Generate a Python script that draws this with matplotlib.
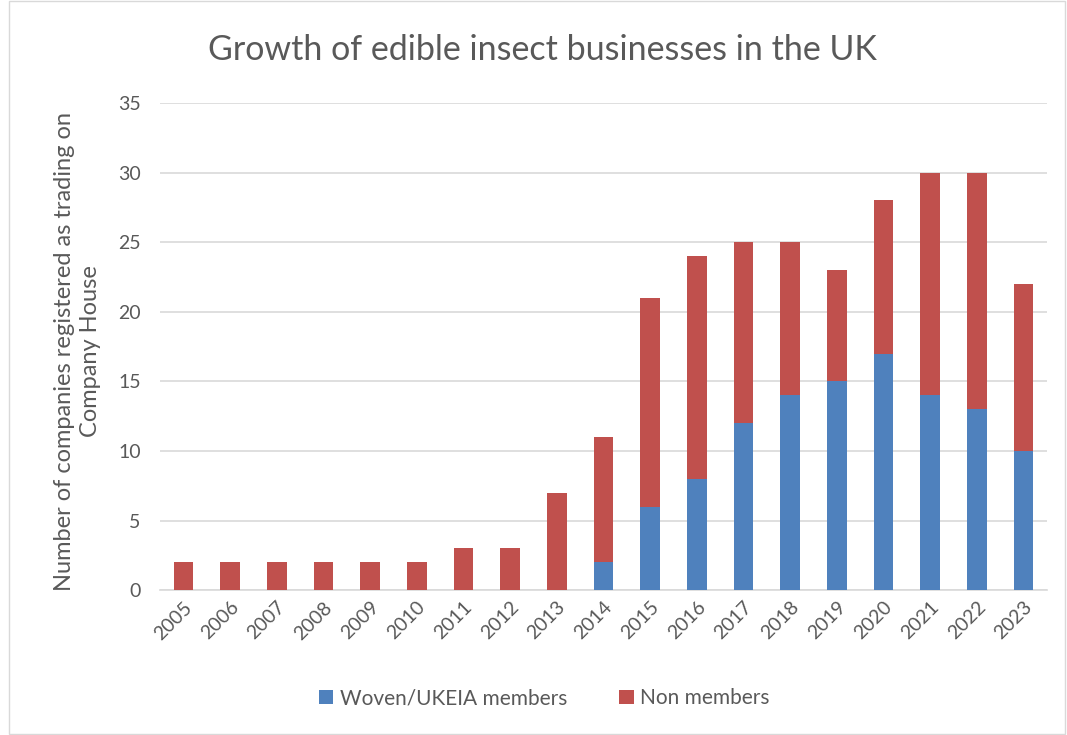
import matplotlib
matplotlib.use("Agg")
import matplotlib.pyplot as plt
import numpy as np

years = ["2005", "2006", "2007", "2008", "2009", "2010", "2011", "2012", "2013", "2014",
         "2015", "2016", "2017", "2018", "2019", "2020", "2021", "2022", "2023"]
members = [0, 0, 0, 0, 0, 0, 0, 0, 0, 2, 6, 8, 12, 14, 15, 17, 14, 13, 10]
non_members = [2, 2, 2, 2, 2, 2, 3, 3, 7, 9, 15, 16, 13, 11, 8, 11, 16, 17, 12]

plt.rcParams['font.family'] = ['Lato', 'DejaVu Sans']
text_color = '#595959'

fig = plt.figure(figsize=(10.67, 7.35), dpi=100)
ax = fig.add_axes([0.15, 0.197, 0.831, 0.663])

x = np.arange(len(years))
w = 0.42
ax.bar(x, members, width=w, color='#4f81bd', label='Woven/UKEIA members', zorder=3)
ax.bar(x, non_members, width=w, bottom=members, color='#c0504d', label='Non members', zorder=3)

ax.set_xlim(-0.5, len(years) - 0.5)
ax.set_ylim(0, 35)
ax.set_yticks(range(0, 36, 5))
ax.yaxis.grid(True, color='#d9d9d9', linewidth=1.2, zorder=0)
ax.set_axisbelow(True)
for s in ['top', 'right', 'left']:
    ax.spines[s].set_visible(False)
ax.spines['bottom'].set_color('#d9d9d9')
ax.spines['bottom'].set_linewidth(1.2)
ax.tick_params(axis='both', length=0, colors=text_color, labelsize=14)
ax.tick_params(axis='y', pad=14)
ax.tick_params(axis='x', pad=6)
ax.set_xticks(x)
ax.set_xticklabels(years, rotation=45, ha='right', rotation_mode='anchor')

ax.set_ylabel('Number of companies registered as trading on\nCompany House',
              fontsize=17, color=text_color, labelpad=12, linespacing=1.3)
ax.yaxis.label.set_y(0.49)

fig.text(0.508, 0.932, 'Growth of edible insect businesses in the UK',
         ha='center', va='center', fontsize=24.5, color=text_color)

leg = fig.legend(loc='center', bbox_to_anchor=(0.51, 0.05), ncol=2, frameon=False,
                 fontsize=15, handlelength=0.7, handleheight=0.7, columnspacing=2.5,
                 handletextpad=0.3)
for t in leg.get_texts():
    t.set_color(text_color)

border = plt.Rectangle((0.008, 0.002), 0.99, 0.996, transform=fig.transFigure,
                       fill=False, edgecolor='#d9d9d9', linewidth=1)
fig.patches.append(border)

fig.savefig('out.png', dpi=100)
